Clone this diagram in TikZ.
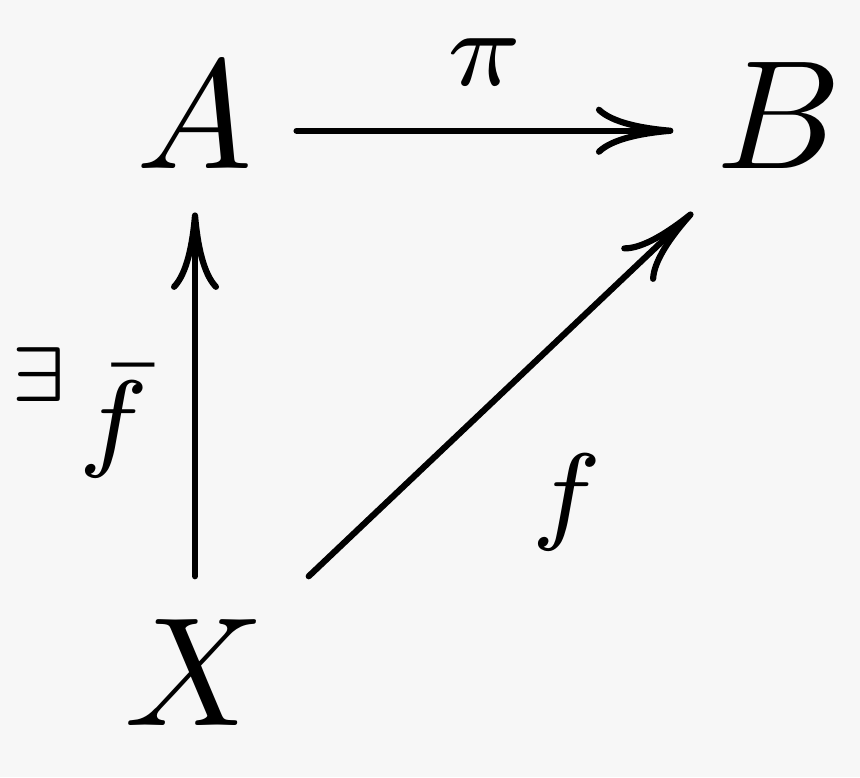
\documentclass[tikz,border=0pt]{standalone}
\usepackage{amsmath, amssymb}
\usepackage{tikz}
\usetikzlibrary{arrows.meta, positioning}

\definecolor{bggray}{HTML}{F7F7F7}

\begin{document}
\begin{tikzpicture}[x=0.0645pt, y=0.0645pt, node distance=37.7pt, auto,
    >={Computer Modern Rightarrow[length=5pt, width=3.1pt]},
    obj/.style={inner sep=2.6pt},
    lab/.style={font=\scriptsize, inner sep=2.7pt}]
    % Background, fixes the margins
    \fill[bggray] (0,0) rectangle (860,777);
    \useasboundingbox (0,0) rectangle (860,777);

    % Objects
    \node[obj] (A) at (195,661) {$A$};
    \node[obj, right of=A] (B) {$B$};
    \node[obj, below of=A, node distance=35.9pt] (X) {$X$};

    % Maps (the top one sits on the math axis)
    \path[->, line width=0.4pt, line cap=round]
    ([yshift=-0.95pt]A.east) edge node[lab]{$\pi$} ([yshift=-0.95pt]B.west)
    (X) edge node[lab, pos=.45]{$\displaystyle^{\exists}\bar{f}$} (A)
    (X.north east) edge node[lab, swap, pos=.46]{$f$} (B.228);
\end{tikzpicture}
\end{document}
